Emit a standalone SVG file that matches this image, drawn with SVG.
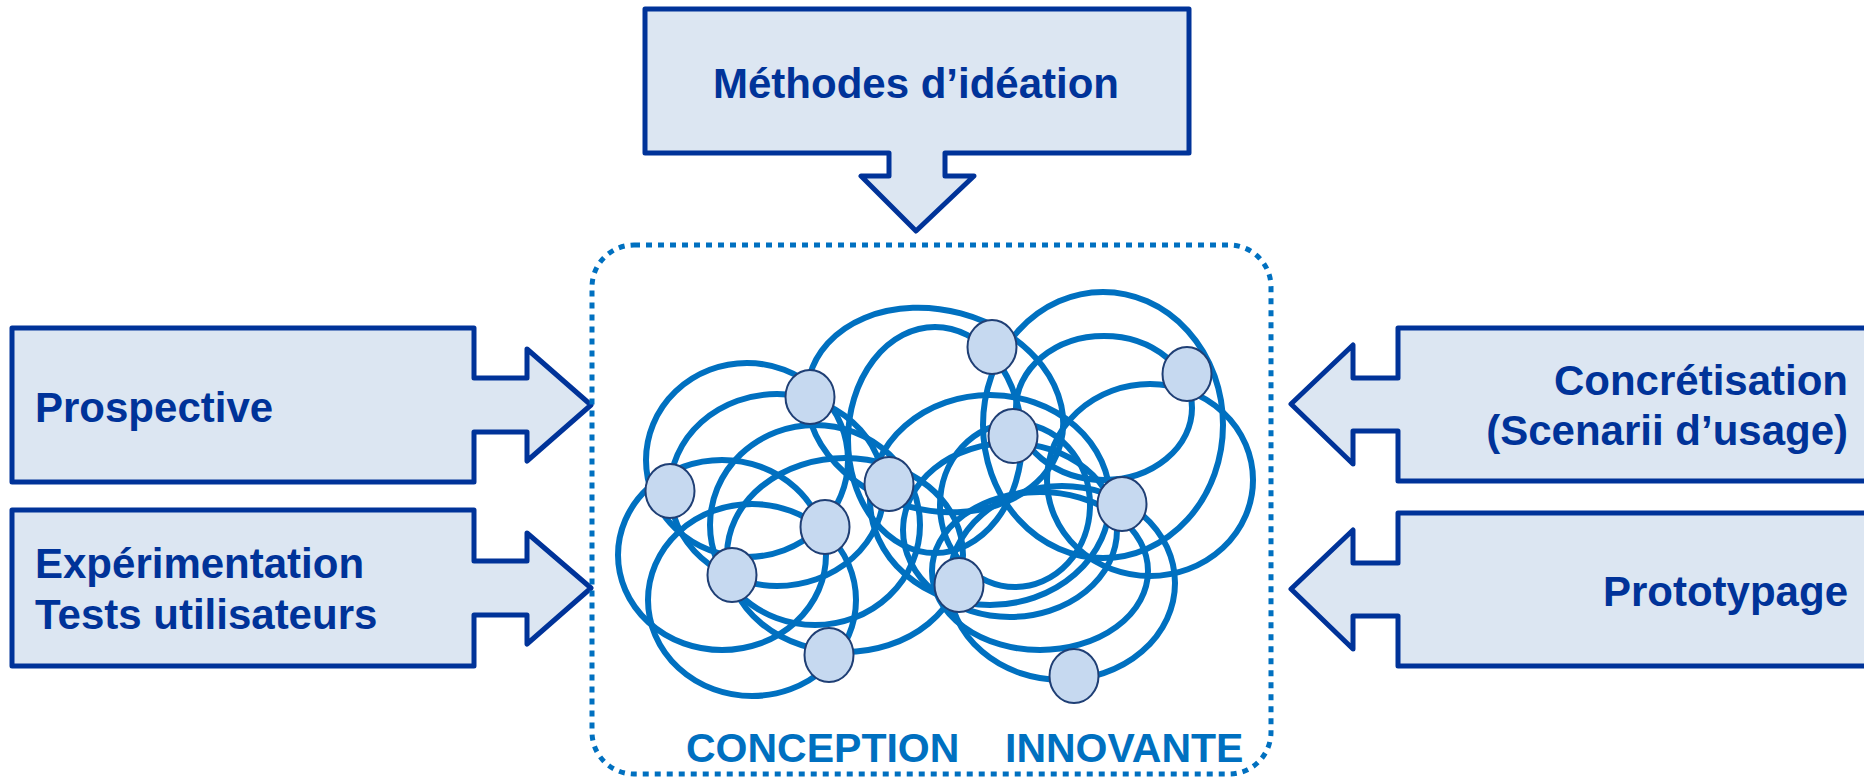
<svg xmlns="http://www.w3.org/2000/svg" width="1864" height="778" viewBox="0 0 1864 778">
<style>
.box{fill:#dce6f2;stroke:#003399;stroke-width:5;stroke-linejoin:round}
.lbl{font-family:"Liberation Sans",Arial,sans-serif;font-weight:bold;font-size:42px;fill:#003399}
.ring{fill:none;stroke:#0070c0;stroke-width:6}
.dot{fill:#c6d9f0;stroke:#1f3f75;stroke-width:2}
.frame{fill:none;stroke:#0070c0;stroke-width:5;stroke-dasharray:6 6}
.title{font-family:"Liberation Sans",Arial,sans-serif;font-weight:bold;font-size:41px;fill:#0070c0}
</style>
<rect width="1864" height="778" fill="#ffffff"/>
<g id="methodes">
<path class="box" d="M645,9 H1189 V153 H945 V176 H974 L916,231 L861,176 H889 V153 H645 Z"/>
<text class="lbl" x="916" y="98" text-anchor="middle">Méthodes d’idéation</text>
</g>
<g id="prospective">
<path class="box" d="M12,328 H474 V378 H527 V349 L591,405 L527,461 V432 H474 V482 H12 Z"/>
<text class="lbl" x="35" y="422">Prospective</text>
</g>
<g id="experimentation">
<path class="box" d="M12,510 H474 V561 H527 V533 L591,588 L527,644 V615 H474 V666 H12 Z"/>
<text class="lbl" x="35" y="578">Expérimentation</text>
<text class="lbl" x="35" y="629">Tests utilisateurs</text>
</g>
<g id="concretisation">
<path class="box" d="M1398,328 H1880 V481 H1398 V431 H1353 V464 L1291,404 L1353,345 V378 H1398 Z"/>
<text class="lbl" x="1848" y="395" text-anchor="end">Concrétisation</text>
<text class="lbl" x="1848" y="445" text-anchor="end">(Scenarii d’usage)</text>
</g>
<g id="prototypage">
<path class="box" d="M1398,513 H1880 V666 H1398 V616 H1353 V649 L1291,589 L1353,530 V563 H1398 Z"/>
<text class="lbl" x="1848" y="606" text-anchor="end">Prototypage</text>
</g>
<g id="conception">
<rect class="frame" x="592" y="245" width="679" height="529" rx="42" ry="42"/>
<g id="rings">
<ellipse class="ring" cx="722" cy="555" rx="104" ry="95"/>
<ellipse class="ring" cx="752" cy="600" rx="104" ry="96"/>
<ellipse class="ring" cx="747" cy="460" rx="101" ry="97"/>
<ellipse class="ring" cx="777" cy="490" rx="107" ry="96"/>
<ellipse class="ring" cx="815" cy="525" rx="105" ry="100"/>
<ellipse class="ring" cx="845" cy="555" rx="118" ry="97"/>
<ellipse class="ring" cx="935" cy="410" rx="130" ry="100" transform="rotate(15 935 410)"/>
<ellipse class="ring" cx="935" cy="440" rx="87" ry="113"/>
<ellipse class="ring" cx="1103" cy="425" rx="120" ry="133"/>
<ellipse class="ring" cx="1104" cy="408" rx="88" ry="72"/>
<ellipse class="ring" cx="1150" cy="480" rx="103" ry="96"/>
<ellipse class="ring" cx="1040" cy="571" rx="108" ry="79"/>
<ellipse class="ring" cx="1015" cy="505" rx="75" ry="82"/>
<ellipse class="ring" cx="1010" cy="530" rx="107" ry="87"/>
<ellipse class="ring" cx="1062" cy="583" rx="113" ry="97"/>
<ellipse class="ring" cx="990" cy="500" rx="120" ry="105"/>
</g>
<g id="points">
<ellipse class="dot" cx="810" cy="397" rx="24.5" ry="27"/>
<ellipse class="dot" cx="992" cy="347" rx="24.5" ry="27"/>
<ellipse class="dot" cx="1187" cy="374" rx="24.5" ry="27"/>
<ellipse class="dot" cx="1013" cy="436" rx="24.5" ry="27"/>
<ellipse class="dot" cx="670" cy="491" rx="24.5" ry="27"/>
<ellipse class="dot" cx="889" cy="484" rx="24.5" ry="27"/>
<ellipse class="dot" cx="825" cy="527" rx="24.5" ry="27"/>
<ellipse class="dot" cx="732" cy="575" rx="24.5" ry="27"/>
<ellipse class="dot" cx="1122" cy="504" rx="24.5" ry="27"/>
<ellipse class="dot" cx="959" cy="585" rx="24.5" ry="27"/>
<ellipse class="dot" cx="829" cy="655" rx="24.5" ry="27"/>
<ellipse class="dot" cx="1074" cy="676" rx="24.5" ry="27"/>
</g>
<text class="title" x="686" y="762">CONCEPTION</text>
<text class="title" x="1005" y="762">INNOVANTE</text>
</g>
</svg>
